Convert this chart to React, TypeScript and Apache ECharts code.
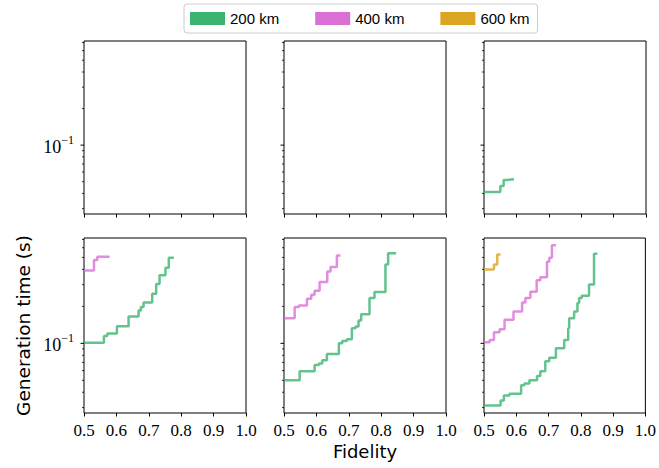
import React, { useEffect, useRef } from 'react';
import * as echarts from 'echarts';

// ---------- data ----------
const seriesNames = ['200 km', '400 km', '600 km'];
const seriesColors = ['#3cb371', '#da70d6', '#daa520'];

const fidelityTicks = [0.5, 0.6, 0.7, 0.8, 0.9, 1.0];
const yMajorTicks = [0.1];
const yMinorTicks = [0.03, 0.04, 0.05, 0.06, 0.07, 0.08, 0.09, 0.2, 0.3, 0.4, 0.5, 0.6, 0.7];

// top-right panel, 200 km
const topRight200Fid = [0.5, 0.5503, 0.5606, 0.5688, 0.5924];
const topRight200Time = [0.0412, 0.0461, 0.0517, 0.0523, 0.0523];

// bottom-left panel
const botLeft200Fid = [0.5, 0.5616, 0.5719, 0.6016, 0.6376, 0.6684, 0.6756, 0.6838, 0.7105, 0.7228, 0.7331, 0.7515, 0.7618, 0.7772];
const botLeft200Time = [0.1013, 0.1148, 0.12, 0.1377, 0.1654, 0.1853, 0.1973, 0.2154, 0.2537, 0.3046, 0.3586, 0.412, 0.497, 0.497];
const botLeft400Fid = [0.5, 0.5308, 0.5411, 0.579];
const botLeft400Time = [0.3917, 0.476, 0.507, 0.507];

// bottom-middle panel
const botMid200Fid = [0.5, 0.5483, 0.5945, 0.6078, 0.6181, 0.6324, 0.6694, 0.6797, 0.694, 0.7094, 0.7207, 0.73, 0.7382, 0.7639, 0.7793, 0.8131, 0.8214, 0.846];
const botMid200Time = [0.0501, 0.0593, 0.0665, 0.0686, 0.073, 0.0818, 0.1, 0.1045, 0.1078, 0.1327, 0.137, 0.1534, 0.1728, 0.2338, 0.2619, 0.4385, 0.5398, 0.5398];
const botMid400Fid = [0.5, 0.5329, 0.5462, 0.5708, 0.5842, 0.5945, 0.6099, 0.6335, 0.6437, 0.6632, 0.6745];
const botMid400Time = [0.1603, 0.1973, 0.2035, 0.2308, 0.2489, 0.2685, 0.3162, 0.3843, 0.4172, 0.5196, 0.5196];

// bottom-right panel
const botRight200Fid = [0.5, 0.5513, 0.5616, 0.5791, 0.615, 0.6253, 0.6407, 0.6643, 0.6745, 0.6899, 0.7023, 0.7228, 0.7485, 0.7608, 0.7639, 0.7793, 0.7895, 0.7947, 0.8029, 0.8255, 0.8409, 0.8511];
const botRight200Time = [0.0312, 0.0343, 0.0377, 0.0389, 0.0456, 0.047, 0.0501, 0.0543, 0.0593, 0.0716, 0.0763, 0.091, 0.1065, 0.1327, 0.1603, 0.1818, 0.2128, 0.2338, 0.2443, 0.3006, 0.5365, 0.5365];
const botRight400Fid = [0.5, 0.5175, 0.5308, 0.5483, 0.5637, 0.5914, 0.6181, 0.6283, 0.6437, 0.6632, 0.6745, 0.6951, 0.7023, 0.7105, 0.7228];
const botRight400Time = [0.1019, 0.1065, 0.1231, 0.1302, 0.1553, 0.1818, 0.2154, 0.2338, 0.2635, 0.3264, 0.3453, 0.4613, 0.4971, 0.6278, 0.6278];
const botRight600Fid = [0.5, 0.5308, 0.5411, 0.5513];
const botRight600Time = [0.399, 0.4385, 0.5297, 0.5297];

// panel index: 0 top-left, 1 top-middle, 2 top-right, 3 bottom-left, 4 bottom-middle, 5 bottom-right
const curves = [
  { panel: 2, s: 0, fid: topRight200Fid, time: topRight200Time },
  { panel: 3, s: 0, fid: botLeft200Fid, time: botLeft200Time },
  { panel: 3, s: 1, fid: botLeft400Fid, time: botLeft400Time },
  { panel: 4, s: 0, fid: botMid200Fid, time: botMid200Time },
  { panel: 4, s: 1, fid: botMid400Fid, time: botMid400Time },
  { panel: 5, s: 0, fid: botRight200Fid, time: botRight200Time },
  { panel: 5, s: 1, fid: botRight400Fid, time: botRight400Time },
  { panel: 5, s: 2, fid: botRight600Fid, time: botRight600Time },
];

const X_MIN = fidelityTicks[0];
const X_MAX = fidelityTicks[fidelityTicks.length - 1];
const Y_MIN = 0.0271;
const Y_MAX = 0.72;

const SERIF = 'Liberation Serif';
const SANS = 'DejaVu Sans';

export default function App() {
  const ref = useRef<HTMLDivElement>(null);

  useEffect(() => {
    if (!ref.current) return;
    const chart = echarts.init(ref.current, null, { renderer: 'svg' });

    const colLefts = [84, 284, 484];
    const rowTops = [41, 238];
    const rowHeights = [173, 175];
    const grids: any[] = [];
    const xAxes: any[] = [];
    const yAxes: any[] = [];
    const series: any[] = [];

    for (let i = 0; i < 6; i++) {
      const r = Math.floor(i / 3);
      const c = i % 3;
      grids.push({
        left: colLefts[c],
        top: rowTops[r],
        width: 162,
        height: rowHeights[r],
        show: true,
        borderColor: '#000',
        borderWidth: 1,
        backgroundColor: '#fff',
        containLabel: false,
      });
      xAxes.push({
        type: 'value',
        gridIndex: i,
        min: X_MIN,
        max: X_MAX,
        interval: 0.1,
        axisLine: { show: false },
        axisTick: { show: true, inside: false, length: 3.5, lineStyle: { color: '#000', width: 1 } },
        splitLine: { show: false },
        axisLabel: {
          show: r === 1,
          margin: 9,
          color: '#000',
          fontFamily: SERIF,
          fontSize: 17,
          formatter: (v: number) => v.toFixed(1),
        },
        name: i === 4 ? 'Fidelity' : '',
        nameLocation: 'middle',
        nameGap: 29,
        nameTextStyle: { fontFamily: SANS, fontSize: 18, color: '#000' },
      });
      yAxes.push({
        type: 'log',
        logBase: 10,
        gridIndex: i,
        min: Y_MIN,
        max: Y_MAX,
        axisLine: { show: false },
        axisTick: { show: false },
        splitLine: { show: false },
        minorTick: { show: false },
        minorSplitLine: { show: false },
        axisLabel: {
          show: c === 0,
          margin: 10,
          showMinLabel: false,
          showMaxLabel: false,
          formatter: (v: number) => (Math.abs(v - 0.1) < 1e-6 ? '{b|10}{s|\u22121}' : ''),
          rich: {
            b: { fontFamily: SERIF, fontSize: 18, color: '#000', lineHeight: 22, verticalAlign: 'bottom' },
            s: { fontFamily: SERIF, fontSize: 12, color: '#000', lineHeight: 12, verticalAlign: 'top' },
          },
        },
        name: i === 3 ? 'Generation time (s)' : '',
        nameLocation: 'middle',
        nameGap: 51,
        nameRotate: 90,
        nameTextStyle: { fontFamily: SANS, fontSize: 18.5, color: '#000' },
      });

      // log-axis ticks (major + minor), drawn at the left spine through the axis scale
      const tickData = [
        ...yMajorTicks.map((v) => [X_MIN, v, 1]),
        ...yMinorTicks.map((v) => [X_MIN, v, 0]),
      ];
      series.push({
        type: 'custom',
        xAxisIndex: i,
        yAxisIndex: i,
        silent: true,
        z: 5,
        data: tickData,
        renderItem: (params: any, api: any) => {
          const p = api.coord([api.value(0), api.value(1)]);
          const major = api.value(2) === 1;
          const len = major ? 3.5 : 2;
          return {
            type: 'line',
            shape: { x1: p[0] - len, y1: p[1], x2: p[0], y2: p[1] },
            style: { stroke: '#000', lineWidth: major ? 1 : 0.8 },
          };
        },
      });
    }

    curves.forEach((cv) => {
      series.push({
        type: 'line',
        name: seriesNames[cv.s],
        xAxisIndex: cv.panel,
        yAxisIndex: cv.panel,
        step: 'end',
        showSymbol: false,
        symbol: 'none',
        color: seriesColors[cv.s],
        lineStyle: { width: 2.5, color: seriesColors[cv.s], opacity: 0.8 },
        data: cv.fid.map((f, k) => [f, cv.time[k]]),
        z: 3,
      });
    });

    chart.setOption({
      animation: false,
      backgroundColor: '#fff',
      grid: grids,
      xAxis: xAxes,
      yAxis: yAxes,
      legend: {
        data: seriesNames.map((n, k) => ({ name: n, itemStyle: { color: seriesColors[k], opacity: 1 } })),
        left: 184,
        top: 4,
        icon: 'rect',
        itemWidth: 35,
        itemHeight: 13,
        itemGap: 36,
        padding: [7, 8, 7, 6],
        borderColor: '#cccccc',
        borderWidth: 1,
        borderRadius: 3,
        backgroundColor: '#fff',
        textStyle: { fontFamily: 'Liberation Sans', fontSize: 15, color: '#000' },
        selectedMode: false,
      },
      series,
    });

    return () => chart.dispose();
  }, []);

  return (
    <div
      ref={ref}
      style={{ position: 'fixed', left: 0, top: 0, width: 659, height: 468, background: '#fff' }}
    />
  );
}
